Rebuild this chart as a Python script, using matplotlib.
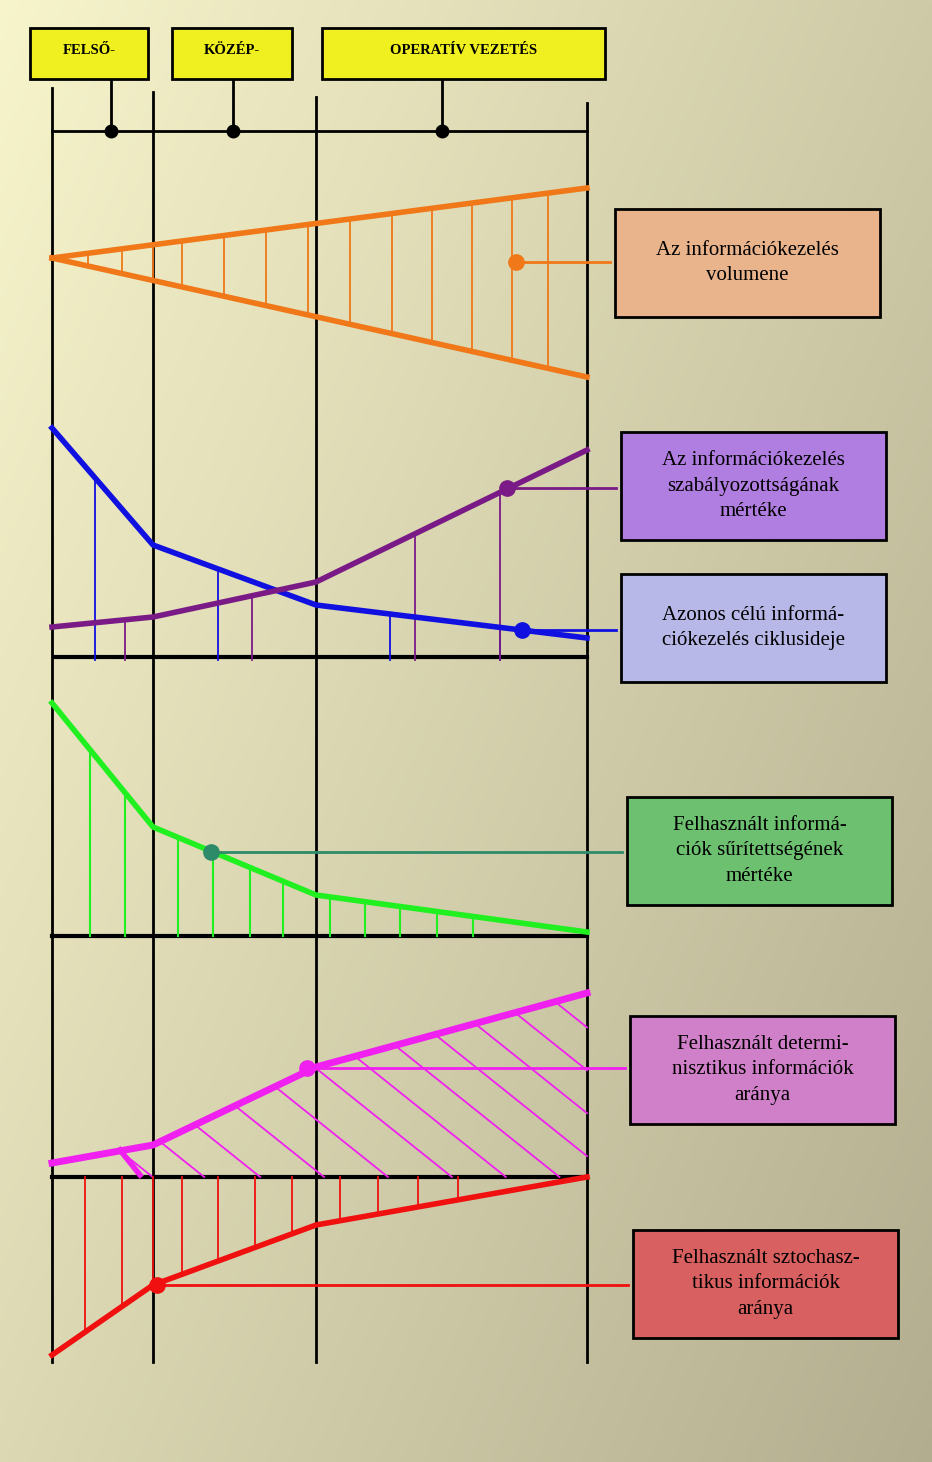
import numpy as np
import matplotlib.pyplot as plt
from matplotlib.patches import Rectangle

W, H = 932, 1462

# level separators and header boxes
levels_x = [52, 153, 316, 587]
header_labels = ['FELSŐ-', 'KÖZÉP-', 'OPERATÍV VEZETÉS']
header_boxes = [(30, 148), (172, 292), (322, 605)]
header_dots = [111, 233, 442]

# curves (x, y) in picture coordinates
vol_top = ([52, 587], [258, 188])
vol_bot = ([52, 587], [258, 377])
vol_stems = [88, 122, 153, 182, 224, 266, 308, 350, 392, 432, 472, 512, 548]
blue_x, blue_y = [52, 153, 316, 587], [428, 545, 605, 638]
purple_x, purple_y = [52, 153, 316, 587], [627, 617, 582, 450]
blue_stems = [95, 218, 390, 500]
purple_stems = [125, 252, 415, 500]
green_x, green_y = [52, 153, 316, 587], [703, 827, 895, 932]
green_stems = [90, 125, 178, 213, 250, 283, 330, 365, 400, 437, 473]
mag_x, mag_y = [52, 153, 316, 587], [1163, 1145, 1067, 993]
mag_hatch = [120, 160, 195, 235, 275, 315, 355, 395, 435, 475, 515, 555]
red_x, red_y = [52, 153, 316, 587], [1355, 1285, 1225, 1177]
red_stems = [85, 122, 153, 182, 218, 255, 292, 340, 378, 418, 458]

labels = [
    ('Az információkezelés\nvolumene', (615, 880, 209, 317), '#e9b48c', (516, 262), '#f07818'),
    ('Az információkezelés\nszabályozottságának\nmértéke', (621, 886, 432, 540), '#b07ee0', (507, 488), '#7a1a86'),
    ('Azonos célú informá-\nciókezelés ciklusideje', (621, 886, 574, 682), '#b8b8e8', (522, 630), '#1010e0'),
    ('Felhasznált informá-\nciók sűrítettségének\nmértéke', (627, 892, 797, 905), '#6cc070', (211, 852), '#2e8b6a'),
    ('Felhasznált determi-\nnisztikus információk\naránya', (630, 895, 1016, 1124), '#d080c8', (307, 1068), '#f020f0'),
    ('Felhasznált sztochasz-\ntikus információk\naránya', (633, 898, 1230, 1338), '#d86060', (157, 1285), '#f01010'),
]

fig = plt.figure(figsize=(W / 100, H / 100), dpi=100)
ax = fig.add_axes([0, 0, 1, 1])
ax.set_xlim(0, W)
ax.set_ylim(H, 0)
ax.axis('off')

# background gradient
gx, gy = np.meshgrid(np.linspace(0, 1, 200), np.linspace(0, 1, 300))
t = (gx * 0.6 + gy * 0.4)
c0 = np.array([0.97, 0.96, 0.80])
c1 = np.array([0.70, 0.68, 0.56])
img = c0 + (c1 - c0) * t[..., None]
ax.imshow(img, extent=[0, W, H, 0], aspect='auto', zorder=0)

def interp(xs, ys, x):
    return np.interp(x, xs, ys)

# vertical separators
for x, y0 in zip(levels_x, [88, 92, 97, 103]):
    ax.plot([x, x], [y0, 1362], color='black', lw=2, zorder=2)
ax.plot([52, 587], [131, 131], color='black', lw=2)
for (x0, x1), lab, dx in zip(header_boxes, header_labels, header_dots):
    ax.add_patch(Rectangle((x0, 28), x1 - x0, 51, fc='#f0f020', ec='black', lw=2, zorder=3))
    ax.text((x0 + x1) / 2, 50, lab, ha='center', va='center', fontsize=10.5,
            fontweight='bold', family='Liberation Serif', zorder=4)
    ax.plot([dx, dx], [80, 131], color='black', lw=2)
    ax.plot(dx, 131, 'o', color='black', ms=9)

# volume triangle
ox = '#f07818'
ax.plot(*vol_top, color=ox, lw=4)
ax.plot(*vol_bot, color=ox, lw=4)
for x in vol_stems:
    ax.plot([x, x], [interp(*vol_top, x), interp(*vol_bot, x)], color=ox, lw=1.3)

# blue / purple
ax.plot([55, 587], [657, 657], color='black', lw=3)
for x in blue_stems:
    ax.plot([x, x], [interp(blue_x, blue_y, x), 660], color='#1010e0', lw=1.3)
for x in purple_stems:
    ax.plot([x, x], [interp(purple_x, purple_y, x), 660], color='#7a1a86', lw=1.3)
ax.plot(blue_x, blue_y, color='#1010e0', lw=4)
ax.plot(purple_x, purple_y, color='#7a1a86', lw=4)

# green
ax.plot([52, 587], [936, 936], color='black', lw=3)
for x in green_stems:
    ax.plot([x, x], [interp(green_x, green_y, x), 936], color='#20f020', lw=1.5)
ax.plot(green_x, green_y, color='#20f020', lw=4)

# magenta
ax.plot([52, 587], [1177, 1177], color='black', lw=3)
for x in mag_hatch:
    y = interp(mag_x, mag_y, x)
    L = min((1177 - y) / 0.8, 587 - x)
    ax.plot([x, x + L], [y, y + 0.8 * L], color='#f020f0', lw=1.3)
ax.plot(mag_x, mag_y, color='#f020f0', lw=5)
ax.plot([120, 140], [1150, 1175], color='#f020f0', lw=4)

# red
for x in red_stems:
    ax.plot([x, x], [1177, interp(red_x, red_y, x)], color='#f01010', lw=1.3)
ax.plot(red_x, red_y, color='#f01010', lw=4)

# label boxes and leaders
for text, (x0, x1, y0, y1), fc, (px, py), lc in labels:
    ax.plot([px, x0 - 5], [py, py], color=lc, lw=2, zorder=5)
    ax.plot(px, py, 'o', color=lc, ms=11, zorder=6)
    ax.add_patch(Rectangle((x0, y0), x1 - x0, y1 - y0, fc=fc, ec='black', lw=2, zorder=5))
    ax.text((x0 + x1) / 2, (y0 + y1) / 2, text, ha='center', va='center', fontsize=15,
            family='Liberation Serif', linespacing=1.45, zorder=6)

fig.savefig('out.png', dpi=100)
